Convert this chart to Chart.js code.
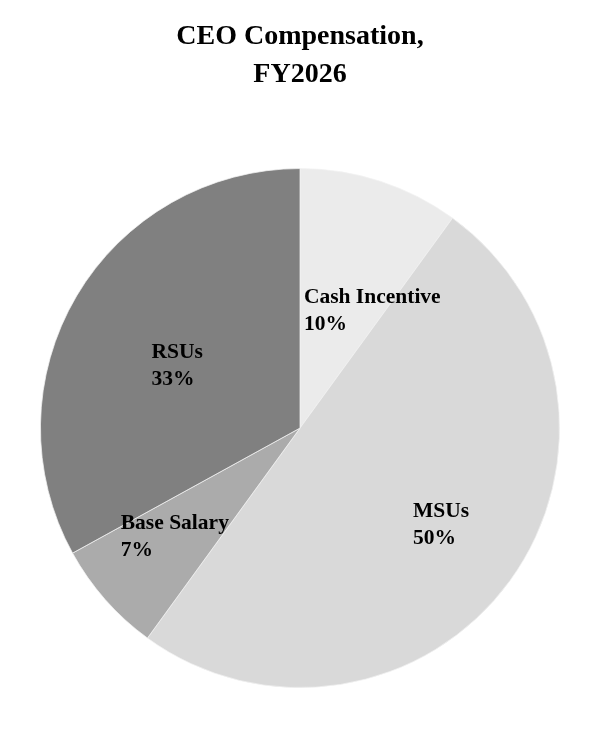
<!DOCTYPE html>
<html>
<head>
<meta charset="utf-8">
<script src="https://cdn.jsdelivr.net/npm/chart.js@4.4.1/dist/chart.umd.min.js"></script>
<style>
  html, body { margin: 0; padding: 0; background: #ffffff; }
  #wrap { width: 600px; height: 750px; }
</style>
</head>
<body>
<div id="wrap"><canvas id="c" width="600" height="750"></canvas></div>
<script>
const titleLines = ['CEO Compensation,', 'FY2026'];
const categories = ['Cash Incentive', 'MSUs', 'Base Salary', 'RSUs'];
const values = [10, 50, 7, 33];
const sliceColors = ['#ebebeb', '#d9d9d9', '#ababab', '#808080'];

const FONT = "'Liberation Serif', 'Times New Roman', serif";
// label placement relative to each slice (radius fraction, angle shift in degrees)
const labelRadius = [0.53, 0.66, 0.64, 0.53];
const labelShift = [13.7, -1.4, 0.3, -3.8];

const labelPlugin = {
  id: 'sliceLabels',
  afterDatasetsDraw(chart) {
    const ctx = chart.ctx;
    const meta = chart.getDatasetMeta(0);
    const total = values.reduce((a, b) => a + b, 0);
    ctx.save();
    ctx.font = "bold 21.5px " + FONT;
    ctx.fillStyle = '#000000';
    ctx.textBaseline = 'middle';
    ctx.textAlign = 'left';
    meta.data.forEach((arc, i) => {
      const p = arc.getProps(['x', 'y', 'startAngle', 'endAngle', 'outerRadius'], true);
      const mid = (p.startAngle + p.endAngle) / 2 + labelShift[i] * Math.PI / 180;
      const r = p.outerRadius * labelRadius[i];
      const cx = p.x + Math.cos(mid) * r;
      const cy = p.y + Math.sin(mid) * r;
      const l1 = categories[i];
      const l2 = Math.round(values[i] / total * 100) + '%';
      const w = Math.max(ctx.measureText(l1).width, ctx.measureText(l2).width);
      const left = cx - w / 2;
      ctx.fillText(l1, left, cy - 13.5);
      ctx.fillText(l2, left, cy + 13.5);
    });
    ctx.restore();
  }
};

new Chart(document.getElementById('c'), {
  type: 'pie',
  data: {
    labels: categories,
    datasets: [{
      data: values,
      backgroundColor: sliceColors,
      borderColor: '#f2f2f2',
      borderWidth: 0.75
    }]
  },
  options: {
    responsive: false,
    devicePixelRatio: 1,
    animation: false,
    layout: { padding: { top: 0, bottom: 62, left: 0, right: 0 } },
    plugins: {
      legend: { display: false },
      tooltip: { enabled: false },
      title: {
        display: true,
        text: titleLines,
        color: '#000000',
        font: { family: FONT, size: 28, weight: 'bold', lineHeight: 1.36 },
        padding: { top: 18, bottom: 74 }
      }
    }
  },
  plugins: [labelPlugin]
});
</script>
</body>
</html>
